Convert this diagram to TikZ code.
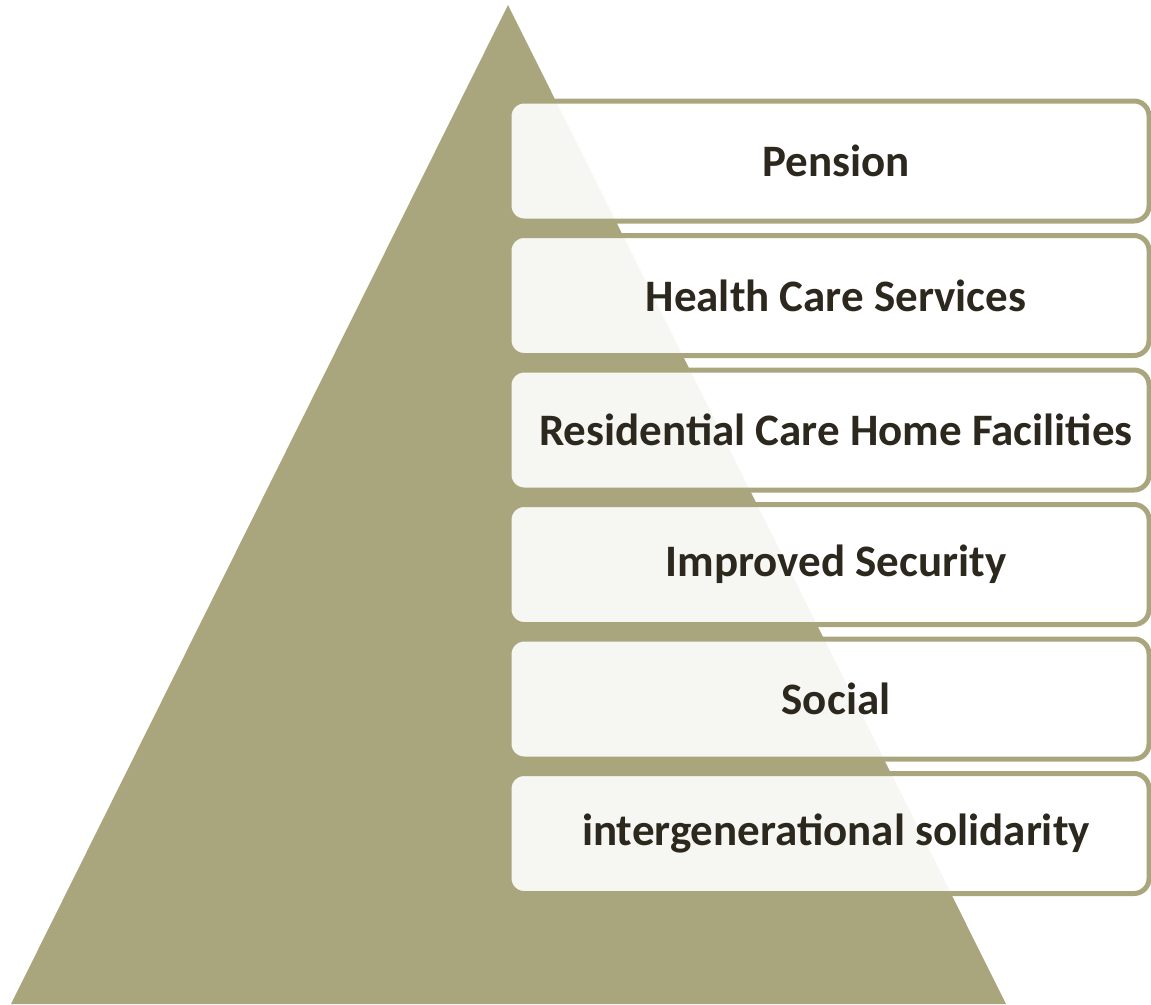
\documentclass[tikz,border=0pt]{standalone}
\usepackage{fontspec}
\setmainfont{Carlito}
\usepackage{tikz}
\usetikzlibrary{positioning}
\definecolor{pyramid-olive}{RGB}{169,166,126}
\definecolor{label-dark}{RGB}{44,40,30}

\begin{document}
\begin{tikzpicture}[x=1pt, y=-1pt, node distance=14.5pt,
	tier/.style={draw=pyramid-olive, line width=5pt, fill=white, fill opacity=0.9, text opacity=1,
		rounded corners=15pt, minimum width=640pt, minimum height=120pt, outer sep=0pt,
		text=label-dark, font=\fontsize{45}{54}\selectfont\bfseries}]
		
		\useasboundingbox (0,0) rectangle (1151,1004);
		
		% Draw the pyramid
		\fill[pyramid-olive] (508,5) -- (1006,1004) -- (11,1004) -- cycle;
		
		% Draw the top tier
		\node (pension) [tier] at (829,161) {\hspace*{14pt}Pension};
		
		% Draw the second tier
		\node (health) [tier, below=of pension] {\hspace*{14pt}Health Care Services};
		
		% Draw the third tier
		\node (residential) [tier, below=of health] {\hspace*{14pt}Residential Care Home Facilities};
		
		% Draw the fourth tier
		\node (security) [tier, below=of residential] {\hspace*{14pt}Improved Security};
		
		% Draw the fifth tier
		\node (social) [tier, below=of security] {\hspace*{14pt}Social};
		
		% Draw the bottom tier
		\node (solidarity) [tier, below=of social] {\hspace*{14pt}intergenerational solidarity};
		
		\end{tikzpicture}
\end{document}
